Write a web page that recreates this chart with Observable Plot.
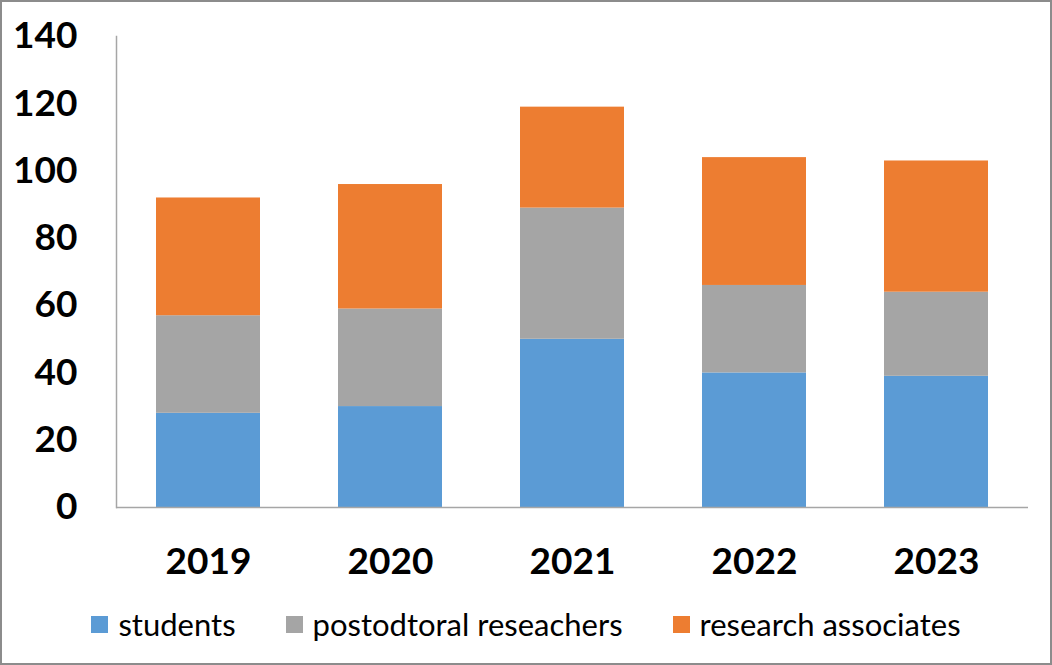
<!DOCTYPE html>
<html>
<head>
<meta charset="utf-8">
<script src="https://cdn.jsdelivr.net/npm/d3@7"></script>
<script src="https://cdn.jsdelivr.net/npm/@observablehq/plot@0.6"></script>
<style>
  html, body { margin: 0; padding: 0; background: #fff; }
  #wrap { position: relative; width: 1052px; height: 665px; overflow: hidden; font-family: Lato, "Open Sans", sans-serif; }
  #wrap::after { content: ""; position: absolute; inset: 0; border: 2px solid #8c8c8c; pointer-events: none; }
  #legend { position: absolute; left: 0; top: 600px; width: 1052px; height: 48px; display: flex; justify-content: center; align-items: center; gap: 50px; font-size: 31px; color: #000; }
  #legend .item { display: flex; align-items: center; gap: 10px; }
  #legend .sw { width: 17px; height: 17px; display: inline-block; }
</style>
</head>
<body>
<div id="wrap">
  <div id="chart"></div>
  <div id="legend"></div>
</div>
<script>
const years = ["2019", "2020", "2021", "2022", "2023"];
const seriesNames = ["students", "postodtoral reseachers", "research associates"];
const students = [28, 30, 50, 40, 39];
const postdocs = [29, 29, 39, 26, 25];
const associates = [35, 37, 30, 38, 39];
const colors = ["#5B9BD5", "#A5A5A5", "#ED7D31"];
const yTicks = [0, 20, 40, 60, 80, 100, 120, 140];

const seriesValues = [students, postdocs, associates];
const data = [];
seriesNames.forEach((s, si) => {
  years.forEach((y, yi) => data.push({year: y, series: s, value: seriesValues[si][yi]}));
});

const plot = Plot.plot({
  width: 1052,
  height: 590,
  marginLeft: 116,
  marginRight: 24,
  marginTop: 36,
  marginBottom: 83,
  style: { fontFamily: "Lato, 'Open Sans', sans-serif", background: "transparent" },
  x: { domain: years, paddingInner: 0.43, paddingOuter: 0.215, label: null },
  y: { domain: [0, 140], label: null },
  color: { domain: seriesNames, range: colors },
  marks: [
    Plot.barY(data, Plot.stackY({ x: "year", y: "value", fill: "series", order: seriesNames })),
    Plot.frame({ anchor: "left", stroke: "#a6a6a6", strokeWidth: 1.5 }),
    Plot.ruleY([0], { stroke: "#a6a6a6", strokeWidth: 1.5 }),
    Plot.axisY({ ticks: yTicks, tickSize: 0, tickPadding: 39, fontSize: 37, fontWeight: "bold", fill: "#000", label: null }),
    Plot.axisX({ tickSize: 0, tickPadding: 40, fontSize: 37, fontWeight: "bold", fill: "#000", label: null })
  ]
});
document.getElementById("chart").appendChild(plot);

const legend = document.getElementById("legend");
seriesNames.forEach((s, i) => {
  const item = document.createElement("div");
  item.className = "item";
  const sw = document.createElement("span");
  sw.className = "sw";
  sw.style.background = colors[i];
  const t = document.createElement("span");
  t.textContent = s;
  item.appendChild(sw);
  item.appendChild(t);
  legend.appendChild(item);
});
</script>
</body>
</html>
